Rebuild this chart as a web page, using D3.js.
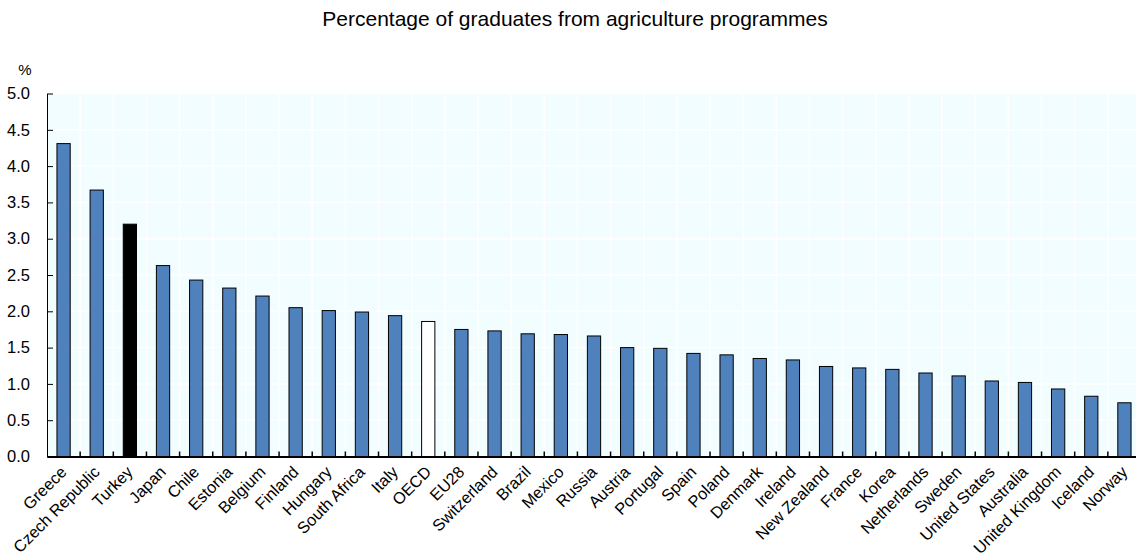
<!DOCTYPE html>
<html><head><meta charset="utf-8">
<script src="https://cdn.jsdelivr.net/npm/d3@7/dist/d3.min.js"></script>
<style>body{margin:0;background:#fff;} text{font-family:"Liberation Sans",Arial,sans-serif;fill:#000;}</style>
</head><body><svg id="c" width="1136" height="559"></svg>
<script>
const categories = ["Greece","Czech Republic","Turkey","Japan","Chile","Estonia","Belgium","Finland","Hungary","South Africa","Italy","OECD","EU28","Switzerland","Brazil","Mexico","Russia","Austria","Portugal","Spain","Poland","Denmark","Ireland","New Zealand","France","Korea","Netherlands","Sweden","United States","Australia","United Kingdom","Iceland","Norway"];
const values = [4.31,3.67,3.20,2.63,2.43,2.32,2.21,2.05,2.01,1.99,1.94,1.86,1.75,1.73,1.69,1.68,1.66,1.50,1.49,1.42,1.40,1.35,1.33,1.24,1.22,1.20,1.15,1.11,1.04,1.02,0.93,0.83,0.74];
const yTicks = [0,0.5,1,1.5,2,2.5,3,3.5,4,4.5,5];
const title = "Percentage of graduates from agriculture programmes";
const unit = "%";

const svg = d3.select("#c");
const L = 47, R = 1141, T = 93.5, B = 456.5;
const x = d3.scaleBand().domain(categories).range([L, R]).paddingInner(0).paddingOuter(0);
const y = d3.scaleLinear().domain([0,5]).range([B, T]);

svg.append("rect").attr("x",L).attr("y",T).attr("width",R-L).attr("height",B-T).attr("fill","#F2FDFF");
// grid
svg.append("g").selectAll("line").data(yTicks.slice(1)).join("line")
  .attr("x1",L).attr("x2",R).attr("y1",d=>y(d)).attr("y2",d=>y(d)).attr("stroke","#fff").attr("stroke-width",1.5);
svg.append("g").selectAll("line").data(categories.slice(1)).join("line")
  .attr("x1",d=>x(d)).attr("x2",d=>x(d)).attr("y1",T).attr("y2",B).attr("stroke","#fff").attr("stroke-width",1.5);

const bw = x.bandwidth()*0.4;
svg.append("g").selectAll("rect").data(categories).join("rect")
  .attr("x",d=>x(d)+x.bandwidth()/2-bw/2).attr("width",bw)
  .attr("y",(d,i)=>y(values[i])).attr("height",(d,i)=>B-y(values[i]))
  .attr("fill",d=>d==="Turkey"?"#000":d==="OECD"?"#fff":"#4F81BD")
  .attr("stroke","#000").attr("stroke-width",1);

// y axis
const ya = svg.append("g").attr("transform",`translate(${L},0)`)
  .call(d3.axisLeft(y).tickValues(yTicks).tickFormat(d3.format(".1f")).tickSizeInner(-6).tickSizeOuter(0).tickPadding(17));
ya.select(".domain").attr("stroke","#000").attr("stroke-width",1);
ya.selectAll(".tick line").attr("stroke","#000");
ya.selectAll("text").attr("font-size","16.5px").attr("fill","#000");

// x axis
const xa = svg.append("g").attr("transform",`translate(0,${B})`)
  .call(d3.axisBottom(x).tickSize(0).tickSizeOuter(0));
xa.select(".domain").attr("stroke","#000").attr("stroke-width",2);
xa.selectAll(".tick").attr("transform",null);
xa.selectAll(".tick text").attr("font-size","16.3px").attr("text-anchor","end")
  .attr("x",null).attr("y",null).attr("dy",null).attr("dx",null)
  .attr("transform",d=>`translate(${x(d)+x.bandwidth()/2+4},16.5) rotate(-45)`);
svg.append("g").selectAll("line").data(categories.slice(1)).join("line")
  .attr("x1",d=>x(d)).attr("x2",d=>x(d)).attr("y1",B).attr("y2",B-5).attr("stroke","#000").attr("stroke-width",1.5);

svg.append("text").attr("x",575).attr("y",26).attr("text-anchor","middle").attr("font-size","21px").text(title);
svg.append("text").attr("x",25).attr("y",75).attr("text-anchor","middle").attr("font-size","15px").text(unit);
</script></body></html>
